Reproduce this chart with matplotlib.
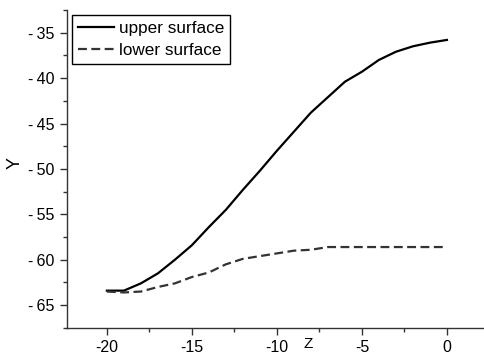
import matplotlib
matplotlib.use("Agg")
import matplotlib.pyplot as plt
from matplotlib.ticker import MultipleLocator, FuncFormatter

plt.rcParams['font.family'] = ['Liberation Sans', 'DejaVu Sans']
plt.rcParams['axes.unicode_minus'] = False

# values
z = [-20, -19, -18, -17, -16, -15, -14, -13, -12, -11, -10,
     -9, -8, -7, -6, -5, -4, -3, -2, -1, 0]
upper = [-63.4, -63.4, -62.6, -61.5, -60.0, -58.4, -56.4, -54.5, -52.3, -50.2, -48.0,
         -45.9, -43.8, -42.1, -40.4, -39.3, -38.0, -37.1, -36.5, -36.1, -35.8]
lower = [-63.5, -63.6, -63.5, -63.0, -62.6, -61.9, -61.4, -60.5, -59.9, -59.6, -59.3,
         -59.0, -58.9, -58.6, -58.6, -58.6, -58.6, -58.6, -58.6, -58.6, -58.6]

fig = plt.figure(figsize=(4.85, 3.56), dpi=100)
ax = fig.add_axes([0.138, 0.079, 0.862, 0.893])

ax.plot(z, upper, color='black', lw=1.6, label='upper surface')
ax.plot(z, lower, color='#333333', lw=1.6, dashes=(4, 2), label='lower surface')

ax.set_xlim(-22.35, 2.24)
ax.set_ylim(-67.5, -32.5)
ax.xaxis.set_major_locator(MultipleLocator(5))
ax.xaxis.set_minor_locator(MultipleLocator(2.5))
ax.yaxis.set_major_locator(MultipleLocator(5))
ax.yaxis.set_minor_locator(MultipleLocator(2.5))
ax.yaxis.set_major_formatter(FuncFormatter(lambda v, p: '-\u2009%d' % abs(v) if v < 0 else '%d' % v))

for s in ['top', 'right']:
    ax.spines[s].set_visible(False)
for s in ['left', 'bottom']:
    ax.spines[s].set_color('#333333')
    ax.spines[s].set_linewidth(1.0)

ax.tick_params(which='major', direction='out', length=5, width=1, colors='#333333',
               labelcolor='black', labelsize=11.5, pad=4)
ax.tick_params(which='minor', direction='out', length=3, width=1, colors='#333333')

ax.set_xlabel('Z', fontsize=11)
ax.set_ylabel('Y', fontsize=13)
ax.xaxis.set_label_coords(0.577, -0.028)
ax.yaxis.set_label_coords(-0.103, 0.52)

leg = ax.legend(loc='upper left', bbox_to_anchor=(0.012, 0.984), borderaxespad=0,
                fancybox=False, edgecolor='black', fontsize=12.3, handlelength=2.1,
                handletextpad=0.3, borderpad=0.35, labelspacing=0.4, framealpha=1)
leg.get_frame().set_linewidth(1.0)

plt.savefig('out.png', dpi=100)
